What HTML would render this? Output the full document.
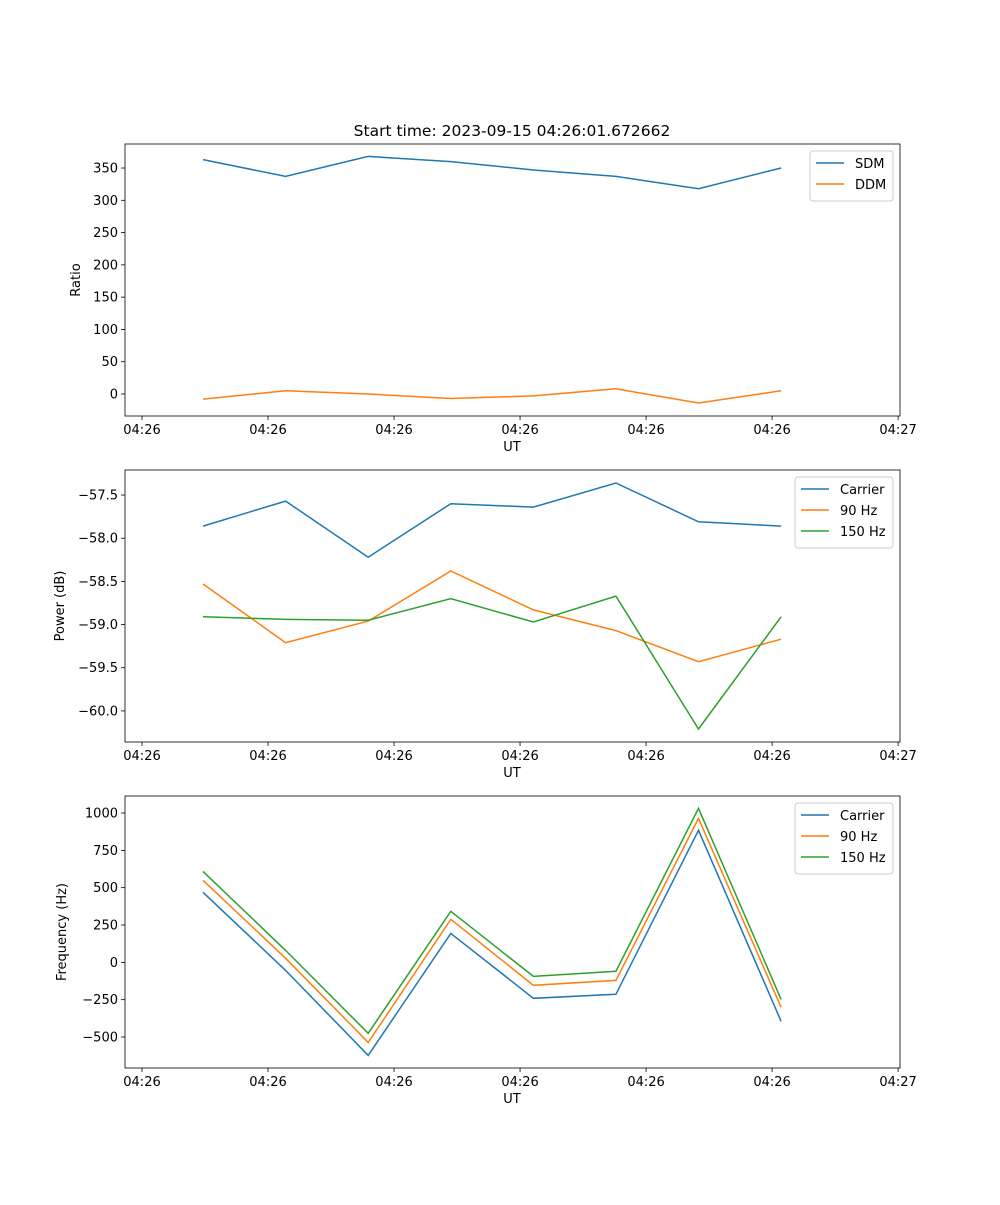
<!DOCTYPE html>
<html><head><meta charset="utf-8"><style>
body{margin:0;background:#fff}
svg text{font-family:"DejaVu Sans","Liberation Sans",sans-serif;font-size:13px;fill:#000}
</style></head><body>
<svg id="fig" width="1000" height="1200" xmlns="http://www.w3.org/2000/svg">
<text x="512" y="136" text-anchor="middle" style="font-size:15.5px">Start time: 2023-09-15 04:26:01.672662</text>
</svg>
<script>
const xIdx = [0,1,2,3,4,5,6,7];
const xTicks = [-0.739,0.787,2.313,3.839,5.365,6.891,8.417];
const xTickLabels = ["04:26","04:26","04:26","04:26","04:26","04:26","04:27"];
const sdm = [363,337,368,360,347,337,318,350];
const ddm = [-8,5,0,-7,-3,8,-14,5];
const pCarrier = [-57.86,-57.57,-58.22,-57.60,-57.64,-57.36,-57.81,-57.86];
const p90 = [-58.53,-59.21,-58.96,-58.38,-58.83,-59.07,-59.43,-59.17];
const p150 = [-58.91,-58.94,-58.95,-58.70,-58.97,-58.67,-60.21,-58.91];
const fCarrier = [469,-54,-623,194,-241,-214,884,-395];
const f90 = [549,27,-536,288,-154,-121,964,-301];
const f150 = [609,80,-475,342,-94,-60,1031,-248];
const yTicks1 = [0,50,100,150,200,250,300,350];
const yTicks2 = [-60.0,-59.5,-59.0,-58.5,-58.0,-57.5];
const yTicks3 = [-500,-250,0,250,500,750,1000];

const NS="http://www.w3.org/2000/svg";
const svg=document.getElementById('fig');
const L=125,R=900,xmin=-0.945,xmax=8.44;
function sx(v){return L+(v-xmin)/(xmax-xmin)*(R-L);}
function mk(t,a){const e=document.createElementNS(NS,t);for(const k in a)e.setAttribute(k,a[k]);svg.appendChild(e);return e;}
const colors=["#1f77b4","#ff7f0e","#2ca02c"];
function panel(name,top,ymin,ymax,yt,fmt,ylabel,series,names,legW){
  const bot=top+272;
  const sy=v=>bot-(v-ymin)/(ymax-ymin)*272;
  series.forEach((s,i)=>{
    const pts=s.map((v,j)=>sx(xIdx[j]).toFixed(1)+","+sy(v).toFixed(1)).join(" ");
    const p=mk('polyline',{points:pts,fill:'none',stroke:colors[i],'stroke-width':1.5});
    
    
  });
  const f=mk('rect',{x:L,y:top,width:R-L,height:272,fill:'none',stroke:'#000','stroke-width':0.8});
  
  
  xTicks.forEach((v,i)=>{
    const x=sx(v);
    mk('line',{x1:x,x2:x,y1:bot,y2:bot+4,stroke:'#000','stroke-width':0.8});
    const t=mk('text',{x:x,y:bot+18,'text-anchor':'middle'});t.textContent=xTickLabels[i];
    
    
  });
  yt.forEach(v=>{
    const y=sy(v);
    mk('line',{x1:L-4,x2:L,y1:y,y2:y,stroke:'#000','stroke-width':0.8});
    const t=mk('text',{x:L-7,y:y+4.5,'text-anchor':'end'});t.textContent=fmt(v);
    
    
  });
  const xl=mk('text',{x:512,y:bot+35,'text-anchor':'middle'});xl.textContent="UT";
  
  
  const lx=ylabel.x;
  const yl=mk('text',{x:lx,y:top+136,'text-anchor':'middle',transform:`rotate(-90 ${lx} ${top+136})`});yl.textContent=ylabel.t;
  
  
  const lh=names.length*21+8, lxL=R-7-legW;
  const lg=mk('rect',{x:lxL,y:top+7,width:legW,height:lh,rx:3,fill:'#fff',stroke:'#ccc','stroke-width':1});
  
  
  names.forEach((n,i)=>{
    const y=top+19+i*21;
    mk('line',{x1:lxL+6,x2:lxL+34,y1:y,y2:y,stroke:colors[i],'stroke-width':1.5});
    const t=mk('text',{x:lxL+45,y:y+5});t.textContent=n;
    
    
  });
}
panel('ratio-panel',144,-34.1,387.2,yTicks1,v=>String(v),{x:80,t:"Ratio"},[sdm,ddm],["SDM","DDM"],83);
panel('power-panel',470,-60.36,-57.21,yTicks2,v=>v.toFixed(1).replace('-','\u2212'),{x:64,t:"Power (dB)"},[pCarrier,p90,p150],["Carrier","90 Hz","150 Hz"],98);
panel('frequency-panel',796,-707.6,1113.8,yTicks3,v=>String(v).replace('-','\u2212'),{x:66,t:"Frequency (Hz)"},[fCarrier,f90,f150],["Carrier","90 Hz","150 Hz"],98);
</script>
</body></html>
